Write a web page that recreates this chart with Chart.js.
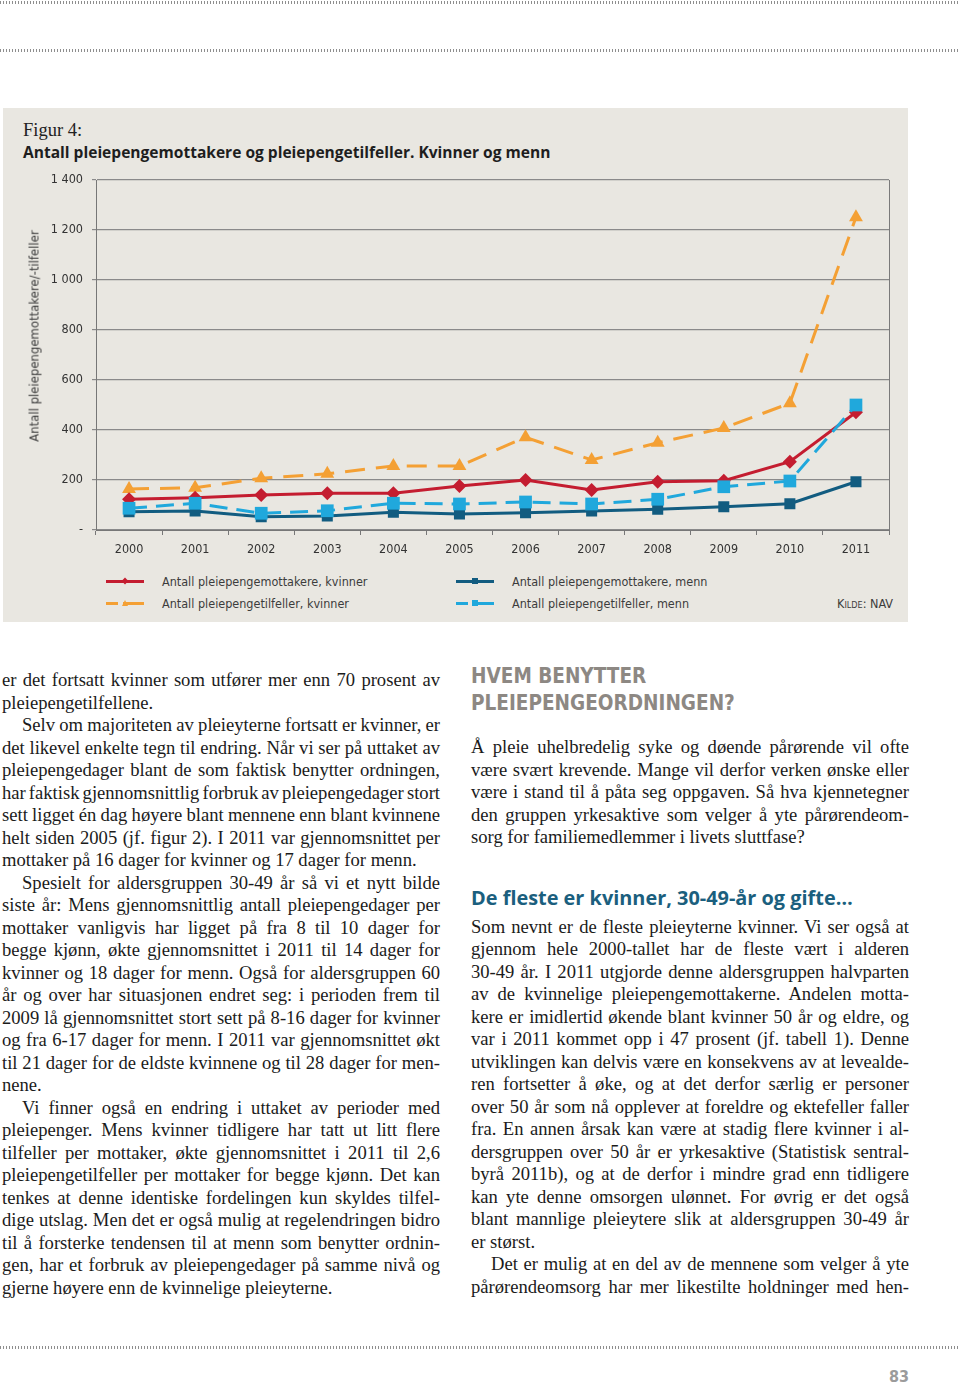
<!DOCTYPE html>
<html>
<head>
<meta charset="utf-8">
<script src="https://cdn.jsdelivr.net/npm/chart.js@4.4.1/dist/chart.umd.min.js"></script>
<style>
  body { margin: 0; background: #fff; }
  #page { position: relative; width: 960px; height: 1388px; overflow: hidden; font-family: "Liberation Serif", serif; color: #1b1b1b; }
  .dots { position: absolute; left: 0; width: 960px; height: 3px; background: repeating-linear-gradient(90deg, #8e8e8e 0 1px, transparent 1px 3px); }
  #panel { position: absolute; left: 3px; top: 108px; width: 905px; height: 514px; background: #e9e7e1; }
  #figno { position: absolute; left: 20px; top: 12px; font-size: 18.5px; color: #222; }
  #ftitle { position: absolute; left: 20px; top: 33px; font-family: "Open Sans", sans-serif; font-weight: bold; font-size: 15.5px; color: #1e1e1e; white-space: nowrap; }
  #chart { position: absolute; left: 0; top: 52px; }
  #ytitle { position: absolute; left: 31px; top: 228px; transform: translate(-50%, -50%) rotate(-90deg); white-space: nowrap; font-family: "DejaVu Sans Condensed", "DejaVu Sans", sans-serif; font-stretch: condensed; font-size: 13px; color: #3a3a3a; }
  #legend { position: absolute; left: 103px; top: 462px; display: grid; grid-template-columns: 350px 350px; grid-auto-rows: 22px; }
  .item { position: relative; height: 22px; font-family: "DejaVu Sans Condensed", "DejaVu Sans", sans-serif; font-stretch: condensed; font-size: 12.5px; color: #3c3c3c; }
  .item .txt { position: absolute; left: 56px; top: 4px; white-space: nowrap; }
  .item .ln { position: absolute; left: 0; top: 10px; width: 38px; height: 2.5px; }
  .item .mk { position: absolute; top: 8px; left: 16px; width: 6px; height: 6px; }
  #kilde { position: absolute; right: 15px; top: 488px; font-family: "DejaVu Sans Condensed", "DejaVu Sans", sans-serif; font-stretch: condensed; font-size: 12.5px; color: #3c3c3c; font-variant: small-caps; }
  .col { position: absolute; width: 438px; }
  .line { height: 22.5px; line-height: 22.5px; font-size: 18.6px; white-space: pre; }
  .h1 { font-family: "DejaVu Sans Condensed", "DejaVu Sans", sans-serif; font-stretch: condensed; font-weight: bold; color: #8d8883; font-size: 21px; line-height: 27px; white-space: nowrap; }
  .h2 { font-family: "Open Sans", sans-serif; font-weight: bold; color: #1b5f7e; font-size: 19px; line-height: 26px; white-space: nowrap; }
  #pno { position: absolute; right: 51px; top: 1367px; font-family: "DejaVu Sans Condensed", "DejaVu Sans", sans-serif; font-stretch: condensed; font-weight: bold; font-size: 16px; color: #9b9b9b; }
</style>
</head>
<body>
<div id="page">
  <div class="dots" style="top:1px"></div>
  <div class="dots" style="top:49px"></div>
  <div class="dots" style="top:1346px"></div>

  <div id="panel">
    <div id="figno">Figur 4:</div>
    <div id="ftitle">Antall pleiepengemottakere og pleiepengetilfeller. Kvinner og menn</div>
    <canvas id="chart" width="905" height="400"></canvas>
    <div id="ytitle">Antall pleiepengemottakere/-tilfeller</div>
    <div id="legend"></div>
    <div id="kilde">Kilde: NAV</div>
  </div>

  <div id="left" class="col" style="left:2px; top:669px"></div>
  <div id="right" class="col" style="left:471px; top:663px"></div>
  <div id="pno">83</div>
</div>

<script>
// chart data
const years = ['2000', '2001', '2002', '2003', '2004', '2005', '2006', '2007', '2008', '2009', '2010', '2011'];
const kvinnerMottakere = [123, 129, 140, 147, 147, 176, 200, 160, 193, 197, 273, 471];
const mennMottakere = [73, 76, 53, 56, 71, 64, 69, 76, 83, 93, 105, 193];
const kvinnerTilfeller = [164, 169, 207, 225, 256, 256, 371, 280, 349, 408, 507, 1251];
const mennTilfeller = [87, 107, 67, 77, 107, 104, 112, 104, 123, 173, 196, 500];
const yTickLabels = ['-', '200', '400', '600', '800', '1 000', '1 200', '1 400'];

const RED = '#c41d30', ORANGE = '#f4a034', DARK = '#125c80', LIGHT = '#20a8dc';
const tickFont = { family: '"DejaVu Sans Condensed", "DejaVu Sans", sans-serif', size: 12.5 };

const datasets = [
  { label: 'Antall pleiepengemottakere, kvinner', data: kvinnerMottakere, borderColor: RED, backgroundColor: RED,
    pointStyle: 'rectRot', pointRadius: 7, borderWidth: 3, order: 1 },
  { label: 'Antall pleiepengemottakere, menn', data: mennMottakere, borderColor: DARK, backgroundColor: DARK,
    pointStyle: 'rect', pointRadius: 7.8, borderWidth: 3, order: 3 },
  { label: 'Antall pleiepengetilfeller, kvinner', data: kvinnerTilfeller, borderColor: ORANGE, backgroundColor: ORANGE,
    pointStyle: 'triangle', pointRadius: 8, borderWidth: 3, borderDash: [20, 11], order: 2 },
  { label: 'Antall pleiepengetilfeller, menn', data: mennTilfeller, borderColor: LIGHT, backgroundColor: LIGHT,
    pointStyle: 'rect', pointRadius: 9, borderWidth: 3, borderDash: [18, 9], order: 0 }
];
datasets.forEach(d => { d.pointBorderWidth = 0; d.tension = 0; d.fill = false; });

// right edge of the plot frame
const frame = {
  id: 'frame',
  afterDraw(chart) {
    const { ctx, chartArea: a } = chart;
    ctx.save();
    ctx.strokeStyle = '#7a7a7a';
    ctx.lineWidth = 1;
    ctx.beginPath();
    ctx.moveTo(a.right + 0.5, a.top);
    ctx.lineTo(a.right + 0.5, a.bottom);
    ctx.stroke();
    ctx.restore();
  }
};

const chart = new Chart(document.getElementById('chart'), {
  type: 'line',
  data: { labels: years, datasets: datasets },
  plugins: [frame],
  options: {
    responsive: false,
    animation: false,
    devicePixelRatio: 1,
    layout: { padding: { left: 0, right: 19, top: 20, bottom: 0 } },
    plugins: { legend: { display: false }, tooltip: { enabled: false } },
    scales: {
      x: {
        offset: true,
        grid: { offset: true, drawOnChartArea: false, drawTicks: true, tickLength: 5, color: '#777' },
        border: { color: '#777', width: 1 },
        ticks: { color: '#333', font: tickFont, padding: 7, autoSkip: false, maxRotation: 0 },
        afterFit: s => { s.height = 30; }
      },
      y: {
        min: 0, max: 1400,
        grid: { color: '#8a8a8a', lineWidth: 1.2, tickLength: 4 },
        border: { color: '#777', width: 1 },
        ticks: { stepSize: 200, color: '#333', font: tickFont, padding: 9,
                 callback: (v, i) => yTickLabels[i] },
        afterFit: s => { s.width = 93; }
      }
    }
  }
});

// html legend from the datasets
const legend = document.getElementById('legend');
chart.data.datasets.forEach(d => {
  const it = document.createElement('div');
  it.className = 'item';
  const ln = document.createElement('div');
  ln.className = 'ln';
  if (d.borderDash) {
    ln.style.background = `linear-gradient(90deg, ${d.borderColor} 0 12px, transparent 12px 17px, ${d.borderColor} 17px 100%)`;
  } else {
    ln.style.background = d.borderColor;
  }
  const mk = document.createElement('div');
  mk.className = 'mk';
  mk.style.background = d.borderColor;
  if (d.pointStyle === 'rectRot') { mk.style.transform = 'rotate(45deg) scale(0.8)'; }
  if (d.pointStyle === 'triangle') { mk.style.clipPath = 'polygon(50% 0, 100% 100%, 0 100%)'; }
  const tx = document.createElement('div');
  tx.className = 'txt';
  tx.textContent = d.label;
  it.append(ln, mk, tx);
  legend.appendChild(it);
});

// body text, line by line as set in the original
const leftParas = [
  { indent: false, lines: [
    'er det fortsatt kvinner som utfører mer enn 70 prosent av',
    'pleiepengetilfellene.'] },
  { indent: true, lines: [
    'Selv om majoriteten av pleieyterne fortsatt er kvinner, er',
    'det likevel enkelte tegn til endring. Når vi ser på uttaket av',
    'pleiepengedager blant de som faktisk benytter ordningen,',
    'har faktisk gjennomsnittlig forbruk av pleiepengedager stort',
    'sett ligget én dag høyere blant mennene enn blant kvinnene',
    'helt siden 2005 (jf. figur 2). I 2011 var gjennomsnittet per',
    'mottaker på 16 dager for kvinner og 17 dager for menn.'] },
  { indent: true, lines: [
    'Spesielt for aldersgruppen 30-49 år så vi et nytt bilde',
    'siste år: Mens gjennomsnittlig antall pleiepengedager per',
    'mottaker vanligvis har ligget på fra 8 til 10 dager for',
    'begge kjønn, økte gjennomsnittet i 2011 til 14 dager for',
    'kvinner og 18 dager for menn. Også for aldersgruppen 60',
    'år og over har situasjonen endret seg: i perioden frem til',
    '2009 lå gjennomsnittet stort sett på 8-16 dager for kvinner',
    'og fra 6-17 dager for menn. I 2011 var gjennomsnittet økt',
    'til 21 dager for de eldste kvinnene og til 28 dager for men-',
    'nene.'] },
  { indent: true, lines: [
    'Vi finner også en endring i uttaket av perioder med',
    'pleiepenger. Mens kvinner tidligere har tatt ut litt flere',
    'tilfeller per mottaker, økte gjennomsnittet i 2011 til 2,6',
    'pleiepengetilfeller per mottaker for begge kjønn. Det kan',
    'tenkes at denne identiske fordelingen kun skyldes tilfel-',
    'dige utslag. Men det er også mulig at regelendringen bidro',
    'til å forsterke tendensen til at menn som benytter ordnin-',
    'gen, har et forbruk av pleiepengedager på samme nivå og',
    'gjerne høyere enn de kvinnelige pleieyterne.'] }
];

const rightBlocks = [
  { head: 'h1', lines: ['HVEM BENYTTER', 'PLEIEPENGEORDNINGEN?'], gap: 19, fit: 264 },
  { indent: false, lines: [
    'Å pleie uhelbredelig syke og døende pårørende vil ofte',
    'være svært krevende. Mange vil derfor verken ønske eller',
    'være i stand til å påta seg oppgaven. Så hva kjennetegner',
    'den gruppen yrkesaktive som velger å yte pårørendeom-',
    'sorg for familiemedlemmer i livets sluttfase?'] , after: 36 },
  { head: 'h2', lines: ['De fleste er kvinner, 30-49-år og gifte…'], gap: 5, fit: 382 },
  { indent: false, lines: [
    'Som nevnt er de fleste pleieyterne kvinner. Vi ser også at',
    'gjennom hele 2000-tallet har de fleste vært i alderen',
    '30-49 år. I 2011 utgjorde denne aldersgruppen halvparten',
    'av de kvinnelige pleiepengemottakerne. Andelen motta-',
    'kere er imidlertid økende blant kvinner 50 år og eldre, og',
    'var i 2011 kommet opp i 47 prosent (jf. tabell 1). Denne',
    'utviklingen kan delvis være en konsekvens av at levealde-',
    'ren fortsetter å øke, og at det derfor særlig er personer',
    'over 50 år som nå opplever at foreldre og ektefeller faller',
    'fra. En annen årsak kan være at stadig flere kvinner i al-',
    'dersgruppen over 50 år er yrkesaktive (Statistisk sentral-',
    'byrå 2011b), og at de derfor i mindre grad enn tidligere',
    'kan yte denne omsorgen ulønnet. For øvrig er det også',
    'blant mannlige pleieytere slik at aldersgruppen 30-49 år',
    'er størst.'] },
  { indent: true, cont: true, lines: [
    'Det er mulig at en del av de mennene som velger å yte',
    'pårørendeomsorg har mer likestilte holdninger med hen-'] }
];

const COLW = 438, INDENT = 20;

// scale a one-line element's font so it spans the given width
function fitWidth(el, target) {
  el.style.display = 'inline-block';
  const fs = parseFloat(getComputedStyle(el).fontSize);
  const w = el.getBoundingClientRect().width;
  el.style.fontSize = (fs * target / w) + 'px';
  el.style.display = 'block';
}
fitWidth(document.getElementById('ftitle'), 528);

function addPara(col, p) {
  p.lines.forEach((t, i) => {
    const div = document.createElement('div');
    div.className = 'line';
    const span = document.createElement('span');
    span.textContent = t;
    div.appendChild(span);
    const ind = (p.indent && i === 0) ? INDENT : 0;
    div.style.paddingLeft = ind + 'px';
    col.appendChild(div);
    const last = i === p.lines.length - 1 && !p.cont;
    if (!last) {
      const w = span.getBoundingClientRect().width;
      const n = (t.match(/ /g) || []).length;
      if (n) span.style.wordSpacing = ((COLW - ind - w) / n) + 'px';
    }
  });
}

function addHead(col, b) {
  const divs = b.lines.map(t => {
    const div = document.createElement('div');
    div.className = b.head;
    div.textContent = t;
    col.appendChild(div);
    return div;
  });
  // size the heading from its longest line
  const longest = divs[divs.length - 1];
  longest.style.display = 'inline-block';
  const fs = parseFloat(getComputedStyle(longest).fontSize);
  const size = fs * b.fit / longest.getBoundingClientRect().width;
  longest.style.display = 'block';
  divs.forEach(d => { d.style.fontSize = size + 'px'; });
  const sp = document.createElement('div');
  sp.style.height = b.gap + 'px';
  col.appendChild(sp);
}

const left = document.getElementById('left');
leftParas.forEach(p => addPara(left, p));

const right = document.getElementById('right');
rightBlocks.forEach(b => {
  if (b.head) { addHead(right, b); return; }
  addPara(right, b);
  if (b.after) {
    const sp = document.createElement('div');
    sp.style.height = b.after + 'px';
    right.appendChild(sp);
  }
});
</script>
</body>
</html>
